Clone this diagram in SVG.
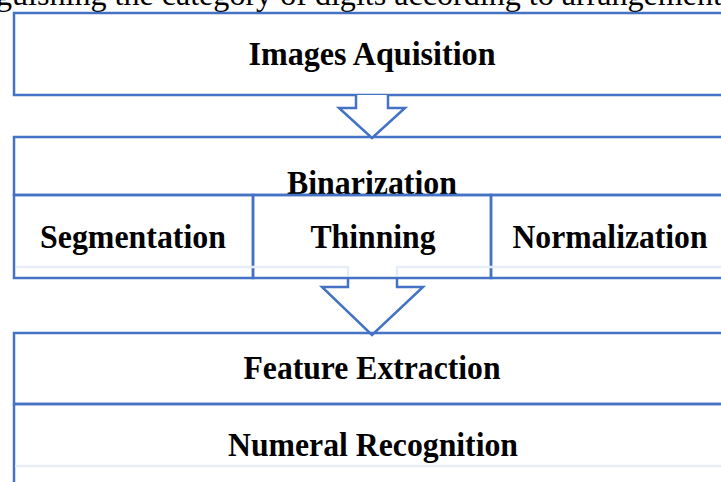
<svg xmlns="http://www.w3.org/2000/svg" width="721" height="482" viewBox="0 0 721 482">
<style>
.box{fill:#ffffff;stroke:#4472c4;stroke-width:2.5}
.ln{fill:none;stroke:#4472c4;stroke-width:2.5}
.faint{fill:none;stroke:#e6edf7;stroke-width:2.5}
.lbl{font-family:"Liberation Serif","Times New Roman",serif;font-weight:bold;font-size:33px;fill:#000;text-anchor:middle}
.cap{font-family:"Liberation Serif","Times New Roman",serif;font-size:32px;fill:#000}
</style>
<rect width="721" height="482" fill="#ffffff"/>
<text class="cap" x="-4" y="5" textLength="726" lengthAdjust="spacingAndGlyphs">guishing the category of digits according to arrangement</text>
<g id="images-aquisition">
<rect class="box" x="14" y="13" width="720" height="82"/>
<text class="lbl" x="372" y="65" textLength="247" lengthAdjust="spacingAndGlyphs">Images Aquisition</text>
</g>
<g id="binarization">
<rect class="box" x="14" y="137" width="720" height="58"/>
<text class="lbl" x="372" y="194" textLength="170" lengthAdjust="spacingAndGlyphs">Binarization</text>
</g>
<g id="segmentation">
<rect class="box" x="14" y="195" width="239" height="83" style="fill:none"/>
<text class="lbl" x="133" y="248" textLength="186" lengthAdjust="spacingAndGlyphs">Segmentation</text>
</g>
<g id="thinning">
<rect class="box" x="253" y="195" width="238" height="83" style="fill:none"/>
<text class="lbl" x="373" y="248" textLength="125" lengthAdjust="spacingAndGlyphs">Thinning</text>
</g>
<g id="normalization">
<rect class="box" x="491" y="195" width="240" height="83" style="fill:none"/>
<text class="lbl" x="610" y="248" textLength="195" lengthAdjust="spacingAndGlyphs">Normalization</text>
</g>
<g id="feature-extraction">
<rect class="box" x="14" y="333" width="720" height="71"/>
<text class="lbl" x="372" y="379" textLength="257" lengthAdjust="spacingAndGlyphs">Feature Extraction</text>
</g>
<g id="numeral-recognition">
<path class="ln" d="M14 404 H734 M14 404 V482"/>
<path class="faint" d="M15 466 H734"/>
<text class="lbl" x="373" y="456" textLength="290" lengthAdjust="spacingAndGlyphs">Numeral Recognition</text>
</g>
<g id="connectors">
<path class="box" d="M356 95 V108 H339 L372 138 L405 108 H388 V95"/>
<path class="faint" d="M16 267 H348 V276 M397 276 V267 H734"/>
<path class="ln" d="M348 278 V287 H322 L372 335 L423 287 H397 V278"/>
</g>
</svg>
